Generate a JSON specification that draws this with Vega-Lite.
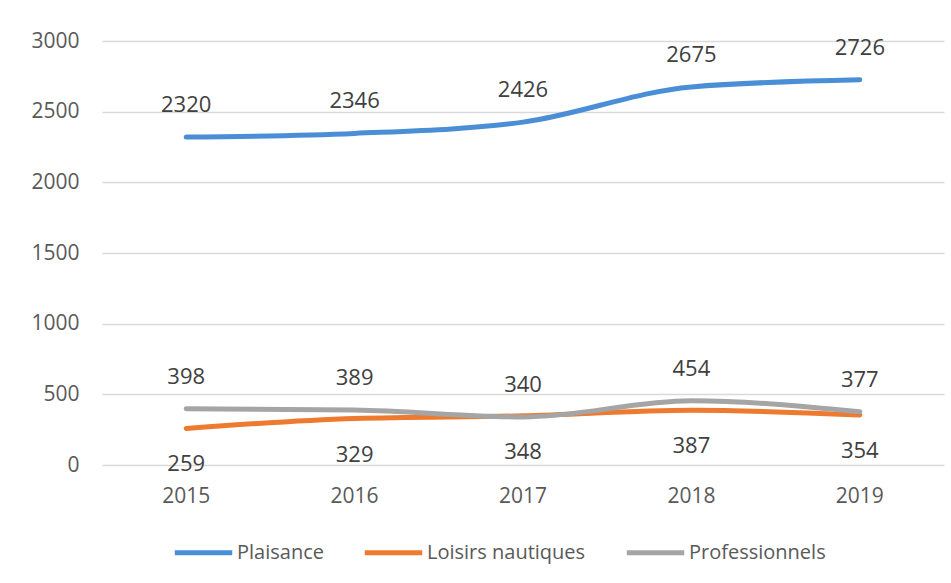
{
  "$schema": "https://vega.github.io/schema/vega-lite/v6.json",
  "width": 842,
  "height": 424,
  "autosize": {"type": "none"},
  "padding": {"left": 102, "top": 41, "right": 7, "bottom": 118},
  "background": "white",
  "config": {
    "font": "Open Sans",
    "view": {"stroke": null},
    "axis": {"labelFont": "Open Sans", "labelColor": "#595959", "labelFontSize": 21}
  },
  "data": {
    "values": [
      {"annee": "2015", "serie": "Plaisance", "valeur": 2320},
      {"annee": "2016", "serie": "Plaisance", "valeur": 2346},
      {"annee": "2017", "serie": "Plaisance", "valeur": 2426},
      {"annee": "2018", "serie": "Plaisance", "valeur": 2675},
      {"annee": "2019", "serie": "Plaisance", "valeur": 2726},
      {"annee": "2015", "serie": "Loisirs nautiques", "valeur": 259},
      {"annee": "2016", "serie": "Loisirs nautiques", "valeur": 329},
      {"annee": "2017", "serie": "Loisirs nautiques", "valeur": 348},
      {"annee": "2018", "serie": "Loisirs nautiques", "valeur": 387},
      {"annee": "2019", "serie": "Loisirs nautiques", "valeur": 354},
      {"annee": "2015", "serie": "Professionnels", "valeur": 398},
      {"annee": "2016", "serie": "Professionnels", "valeur": 389},
      {"annee": "2017", "serie": "Professionnels", "valeur": 340},
      {"annee": "2018", "serie": "Professionnels", "valeur": 454},
      {"annee": "2019", "serie": "Professionnels", "valeur": 377}
    ]
  },
  "encoding": {
    "x": {
      "field": "annee", "type": "ordinal",
      "scale": {"type": "band", "paddingInner": 0, "paddingOuter": 0},
      "axis": {"title": null, "labelAngle": 0, "domain": false, "ticks": false, "labelPadding": 20, "grid": false}
    },
    "y": {
      "field": "valeur", "type": "quantitative",
      "scale": {"domain": [0, 3000], "nice": false},
      "axis": {"title": null, "format": "d", "values": [0, 500, 1000, 1500, 2000, 2500, 3000], "domain": false, "ticks": false, "labelPadding": 23, "gridColor": "#d9d9d9", "gridWidth": 1.5}
    }
  },
  "layer": [
    {
      "mark": {"type": "line", "interpolate": "monotone", "strokeWidth": 5, "strokeCap": "round"},
      "encoding": {
        "color": {
          "field": "serie", "type": "nominal",
          "scale": {"domain": ["Plaisance", "Loisirs nautiques", "Professionnels"], "range": ["#4a8fd6", "#ee7a2f", "#a5a5a5"]},
          "legend": {
            "title": null, "orient": "none", "direction": "horizontal",
            "legendX": 70, "legendY": 480,
            "symbolType": "stroke", "symbolStrokeWidth": 5, "symbolSize": 3300,
            "labelFontSize": 20, "labelColor": "#595959", "labelFont": "Open Sans", "labelLimit": 300,
            "columnPadding": 30, "labelOffset": 2
          }
        },
        "order": {"field": "annee"}
      }
    },
    {
      "transform": [{"filter": "datum.serie !== 'Loisirs nautiques'"}],
      "mark": {"type": "text", "dy": -32, "fontSize": 22, "color": "#404040"},
      "encoding": {"text": {"field": "valeur", "type": "quantitative", "format": "d"}}
    },
    {
      "transform": [{"filter": "datum.serie === 'Loisirs nautiques'"}],
      "mark": {"type": "text", "dy": 36, "fontSize": 22, "color": "#404040"},
      "encoding": {"text": {"field": "valeur", "type": "quantitative", "format": "d"}}
    }
  ]
}
